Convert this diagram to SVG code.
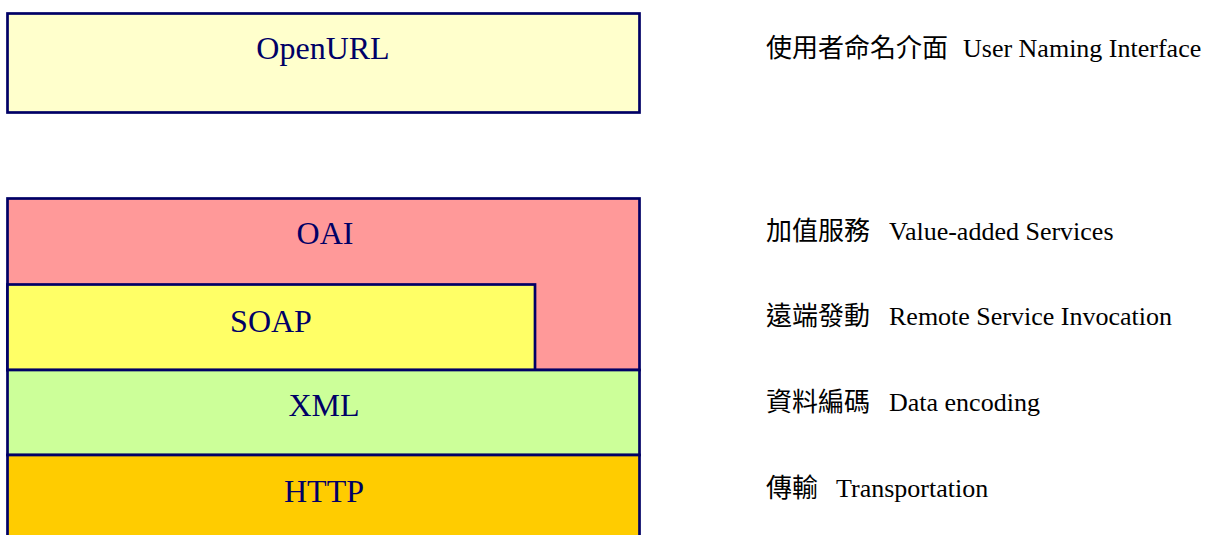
<svg xmlns="http://www.w3.org/2000/svg" width="1208" height="535" viewBox="0 0 1208 535">
<style>
.box{stroke:#000066;stroke-width:2.7}
.lbl{font-family:"Liberation Serif","Times New Roman",serif;font-size:32px;fill:#000066;text-anchor:middle}
.cap{font-family:"Liberation Serif","Noto Sans CJK TC",serif;font-size:26px;fill:#000000}
</style>
<rect width="1208" height="535" fill="#ffffff"/>
<g id="openurl">
<rect class="box" x="7.5" y="13.5" width="632" height="99" fill="#FFFFCC"/>
<text class="lbl" x="323" y="59">OpenURL</text>
</g>
<g id="oai">
<rect class="box" x="7.5" y="198.5" width="632" height="171.5" fill="#FF9999"/>
<text class="lbl" x="325" y="244">OAI</text>
</g>
<g id="soap">
<rect class="box" x="7.5" y="284.5" width="527.5" height="85.5" fill="#FFFF66"/>
<text class="lbl" x="271" y="332">SOAP</text>
</g>
<g id="xml">
<rect class="box" x="7.5" y="370" width="632" height="85" fill="#CCFF99"/>
<text class="lbl" x="324" y="416">XML</text>
</g>
<g id="http">
<rect class="box" x="7.5" y="455" width="632" height="100" fill="#FFCC00"/>
<text class="lbl" x="324" y="502">HTTP</text>
</g>
<g id="captions">
<text class="cap" x="766" y="57">使用者命名介面</text>
<text class="cap" x="963" y="57">User Naming Interface</text>
<text class="cap" x="766" y="240">加值服務</text>
<text class="cap" x="889" y="240">Value-added Services</text>
<text class="cap" x="766" y="325">遠端發動</text>
<text class="cap" x="889" y="325">Remote Service Invocation</text>
<text class="cap" x="766" y="411">資料編碼</text>
<text class="cap" x="889" y="411">Data encoding</text>
<text class="cap" x="766" y="497">傳輸</text>
<text class="cap" x="836" y="497">Transportation</text>
</g>
<g id="connectors"></g>
</svg>
